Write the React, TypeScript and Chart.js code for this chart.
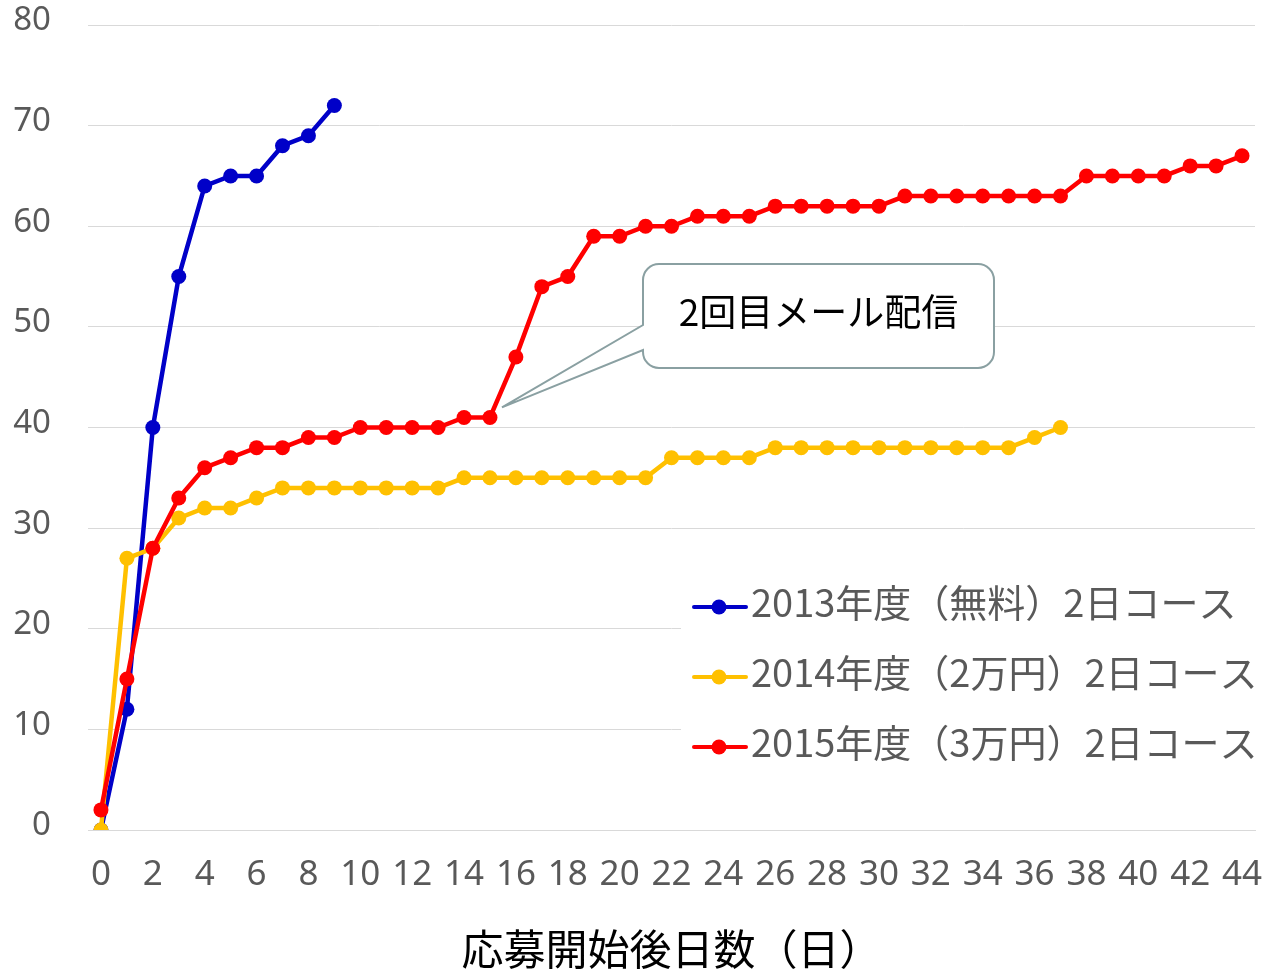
import React, { useEffect, useRef } from "react";
import { Chart, registerables } from "chart.js";

Chart.register(...registerables);

const xLabels = [
  "0", "1", "2", "3", "4", "5", "6", "7", "8", "9",
  "10", "11", "12", "13", "14", "15", "16", "17", "18", "19",
  "20", "21", "22", "23", "24", "25", "26", "27", "28", "29",
  "30", "31", "32", "33", "34", "35", "36", "37", "38", "39",
  "40", "41", "42", "43", "44",
];

const seriesNames = [
  "2013年度（無料）2日コース",
  "2014年度（2万円）2日コース",
  "2015年度（3万円）2日コース",
];

const values2013 = [0, 12, 40, 55, 64, 65, 65, 68, 69, 72];
const values2014 = [
  0, 27, 28, 31, 32, 32, 33, 34, 34, 34, 34, 34, 34, 34, 35, 35, 35, 35, 35,
  35, 35, 35, 37, 37, 37, 37, 38, 38, 38, 38, 38, 38, 38, 38, 38, 38, 39, 40,
];
const values2015 = [
  2, 15, 28, 33, 36, 37, 38, 38, 39, 39, 40, 40, 40, 40, 41, 41, 47, 54, 55,
  59, 59, 60, 60, 61, 61, 61, 62, 62, 62, 62, 62, 63, 63, 63, 63, 63, 63, 63,
  65, 65, 65, 65, 66, 66, 67,
];

const xTitle = "応募開始後日数（日）";
const calloutText = "2回目メール配信";
const calloutAnchorDay = 15;
const calloutAnchorValue = 41;

const colors = ["#0000C8", "#FFC000", "#FF0000"];
const JP = '"Noto Sans CJK JP", "Noto Sans", sans-serif';
const NUM = '"Noto Sans", "DejaVu Sans", sans-serif';

const overlayPlugin = {
  id: "overlay",
  afterDraw(chart: any) {
    const ctx = chart.ctx as CanvasRenderingContext2D;
    const xs = chart.scales.x;
    const ys = chart.scales.y;
    ctx.save();

    // legend
    ctx.fillStyle = "#ffffff";
    ctx.fillRect(681, 572, 584, 200);
    const rows = [607, 677, 747];
    chart.data.datasets.forEach((ds: any, i: number) => {
      const y = rows[i];
      ctx.strokeStyle = ds.borderColor;
      ctx.lineWidth = 4;
      ctx.lineCap = "round";
      ctx.beginPath();
      ctx.moveTo(694, y);
      ctx.lineTo(746, y);
      ctx.stroke();
      ctx.fillStyle = ds.backgroundColor;
      ctx.beginPath();
      ctx.arc(719, y, 7.5, 0, Math.PI * 2);
      ctx.fill();
      ctx.fillStyle = "#595959";
      ctx.font = `38px ${JP}`;
      ctx.textAlign = "left";
      ctx.textBaseline = "middle";
      ctx.fillText(ds.label, 751, y - 4);
    });

    // callout
    const tipX = xs.getPixelForValue(calloutAnchorDay) + 12;
    const tipY = ys.getPixelForValue(calloutAnchorValue) - 10;
    const L = 643, R = 994, T = 264, B = 368, r = 16;
    ctx.beginPath();
    ctx.moveTo(L + r, T);
    ctx.lineTo(R - r, T);
    ctx.arcTo(R, T, R, T + r, r);
    ctx.lineTo(R, B - r);
    ctx.arcTo(R, B, R - r, B, r);
    ctx.lineTo(L + r, B);
    ctx.arcTo(L, B, L, B - r, r);
    ctx.lineTo(L, 350);
    ctx.lineTo(tipX, tipY);
    ctx.lineTo(L, 325);
    ctx.lineTo(L, T + r);
    ctx.arcTo(L, T, L + r, T, r);
    ctx.closePath();
    ctx.fillStyle = "#ffffff";
    ctx.fill();
    ctx.strokeStyle = "#8AA0A2";
    ctx.lineWidth = 2;
    ctx.lineJoin = "miter";
    ctx.stroke();
    ctx.fillStyle = "#000000";
    ctx.font = `37px ${JP}`;
    ctx.textAlign = "center";
    ctx.textBaseline = "middle";
    ctx.fillText(calloutText, (L + R) / 2, 312);

    ctx.restore();
  },
};

export default function App() {
  const ref = useRef<HTMLCanvasElement | null>(null);

  useEffect(() => {
    document.body.style.margin = "0";
    document.body.style.overflow = "hidden";
    if (!ref.current) return;
    const mk = (i: number, data: number[], order: number) => ({
      label: seriesNames[i],
      data,
      borderColor: colors[i],
      backgroundColor: colors[i],
      pointBackgroundColor: colors[i],
      pointBorderWidth: 0,
      pointRadius: 7.5,
      borderWidth: 4.5,
      tension: 0,
      order,
    });
    const chart = new Chart(ref.current, {
      type: "line",
      data: {
        labels: xLabels,
        datasets: [
          mk(0, values2013, 2),
          mk(1, values2014, 1),
          mk(2, values2015, 0),
        ],
      },
      options: {
        responsive: false,
        animation: false,
        layout: { padding: { left: 0, right: 10, top: 25, bottom: 0 } },
        plugins: {
          legend: { display: false },
          tooltip: { enabled: false },
        },
        scales: {
          x: {
            type: "category",
            offset: true,
            grid: { display: false, drawTicks: false },
            border: { display: true, color: "#D9D9D9", width: 1 },
            ticks: {
              autoSkip: false,
              maxRotation: 0,
              minRotation: 0,
              padding: 24,
              color: "#595959",
              font: { family: NUM, size: 35, lineHeight: 1.2 },
              callback: (_v: any, idx: number) =>
                idx % 2 === 0 ? xLabels[idx] : "",
            },
            title: {
              display: true,
              text: xTitle,
              color: "#000000",
              font: { family: JP, size: 42, lineHeight: 1.2 },
              padding: { top: 0, bottom: 0 },
            },
            afterFit: (s: any) => {
              s.height = 144;
              s.paddingLeft = 0;
              s.paddingRight = 0;
            },
          },
          y: {
            min: 0,
            max: 80,
            grid: { color: "#D9D9D9", lineWidth: 1, drawTicks: false },
            border: { display: false },
            ticks: {
              stepSize: 10,
              padding: 37,
              labelOffset: -4,
              color: "#595959",
              font: { family: NUM, size: 33 },
            },
            afterFit: (s: any) => {
              s.width = 88;
              s.paddingTop = 0;
              s.paddingBottom = 0;
            },
          },
        },
      },
      plugins: [overlayPlugin],
    });
    return () => chart.destroy();
  }, []);

  return (
    <div style={{ width: 1265, height: 974 }}>
      <canvas ref={ref} width={1265} height={974} style={{ display: "block" }} />
    </div>
  );
}
